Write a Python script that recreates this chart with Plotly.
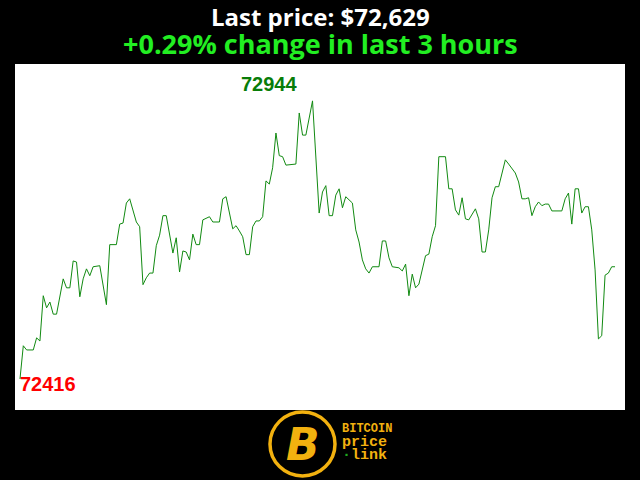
import plotly.graph_objects as go

# minutes since window start (3 hours, one reading per minute; flat runs collapsed)
minutes = [
    0, 1, 2, 4, 5, 6, 7, 8, 9, 10, 11, 12, 13, 14, 15, 16, 17, 18, 19, 20,
    21, 22, 24, 26, 27, 29, 30, 31, 32, 33, 35, 36, 37, 38, 39, 40, 41, 42, 43, 44,
    45, 46, 47, 48, 49, 50, 51, 52, 53, 54, 55, 57, 58, 60, 61, 62, 64, 65, 66, 67,
    68, 69, 70, 71, 72, 73, 74, 75, 76, 77, 78, 79, 80, 83, 84, 85, 86, 88, 90, 91,
    92, 93, 94, 95, 96, 97, 98, 100, 101, 102, 103, 104, 105, 106, 108, 109, 110, 111, 112, 114,
    115, 116, 117, 118, 119, 120, 122, 123, 124, 125, 126, 128, 129, 130, 131, 132, 133, 134, 135, 137,
    138, 139, 140, 141, 142, 143, 144, 146, 147, 149, 150, 151, 152, 153, 154, 155, 156, 157, 158, 159,
    160, 163, 164, 165, 166, 167, 168, 169, 170, 171, 172, 173, 174, 175, 176, 177, 178, 179,
]
prices = [
    72416, 72479, 72471, 72471, 72494, 72488, 72574, 72551, 72562, 72539, 72539, 72570, 72606, 72589, 72589, 72640, 72638, 72572, 72606, 72625,
    72612, 72629, 72631, 72557, 72671, 72671, 72710, 72712, 72750, 72758, 72714, 72705, 72595, 72608, 72617, 72617, 72669, 72689, 72726, 72726,
    72693, 72655, 72684, 72619, 72659, 72657, 72642, 72691, 72671, 72671, 72718, 72724, 72714, 72714, 72758, 72762, 72701, 72707, 72697, 72686,
    72652, 72652, 72705, 72716, 72716, 72724, 72792, 72786, 72817, 72883, 72840, 72838, 72822, 72824, 72921, 72879, 72879, 72944, 72731, 72771,
    72783, 72726, 72726, 72765, 72777, 72741, 72762, 72750, 72699, 72676, 72642, 72625, 72617, 72629, 72629, 72678, 72678, 72646, 72629, 72627,
    72621, 72634, 72574, 72615, 72589, 72596, 72650, 72653, 72686, 72707, 72838, 72838, 72777, 72777, 72737, 72727, 72760, 72720, 72718, 72739,
    72720, 72657, 72657, 72699, 72760, 72781, 72781, 72832, 72824, 72807, 72790, 72758, 72758, 72760, 72726, 72743, 72752, 72745, 72748, 72748,
    72735, 72735, 72758, 72769, 72710, 72777, 72777, 72731, 72743, 72743, 72699, 72623, 72492, 72498, 72613, 72617, 72629, 72629,
]

last = prices[-1]
change = (last - prices[0]) / prices[0] * 100
hi = max(prices)
lo = min(prices)
hi_x = minutes[prices.index(hi)]
lo_x = minutes[prices.index(lo)]

GOLD = "#f2b10f"


def paper_note(text, x, y, size, color, family="Open Sans", xanchor="center", **kw):
    return dict(text=text, x=x, y=y, xref="paper", yref="paper", showarrow=False,
                xanchor=xanchor, yanchor="middle", align=xanchor,
                font=dict(family=family, size=size, color=color, weight="bold", **kw))


fig = go.Figure()
fig.add_trace(go.Scatter(
    x=minutes, y=prices, mode="lines",
    line=dict(color="#118a11", width=1),
    hoverinfo="skip",
))

# each block is one text so its lines share one box; the base size sets the line gap
header = (f"<span style='font-size:24px'>Last price: ${last:,}</span><br>"
          f"<span style='font-size:27px;color:#22ee22'>{change:+.2f}% change in last 3 hours</span>")
brand = ("<span style='font-size:12px'>BITCOIN</span><br>"
         "<span style='font-size:15px'>price</span><br>"
         "<span style='font-size:15px'><span style='color:#1faa1f'>·</span>link</span>")

annotations = [
    paper_note(header, 0.5, 1.0954, 21.5, "white"),
    dict(text=str(hi), x=hi_x, y=hi, showarrow=False, xanchor="center", yanchor="middle",
         xshift=-44, yshift=17, font=dict(family="Liberation Sans", size=20, color="#087d08", weight="bold")),
    dict(text=str(lo), x=lo_x, y=lo, showarrow=False, xanchor="left", yanchor="middle",
         xshift=-2, yshift=-5, font=dict(family="Liberation Sans", size=20, color="#ff0000", weight="bold")),
    # logo
    paper_note("B", 0.4721, -0.0983, 44, GOLD, family="DejaVu Sans", style="italic"),
    paper_note(brand, 0.5328, -0.0954, 10.5, GOLD, family="Liberation Mono", xanchor="left"),
]

fig.update_layout(
    width=640, height=480,
    margin=dict(l=15, r=15, t=64, b=70),
    paper_bgcolor="black", plot_bgcolor="white",
    showlegend=False,
    annotations=annotations,
    shapes=[dict(type="circle", xref="paper", yref="paper",
                 x0=0.4180, x1=0.5246, y0=-0.0058, y1=-0.1907,
                 line=dict(color=GOLD, width=3.5), fillcolor="black")],
)
fig.update_xaxes(range=[-1.5, 182], visible=False, fixedrange=True)
fig.update_yaxes(range=[72357, 73014], visible=False, fixedrange=True)

fig.write_html("out.html", config={"displayModeBar": False},
               post_script="document.body.style.margin='0';")
